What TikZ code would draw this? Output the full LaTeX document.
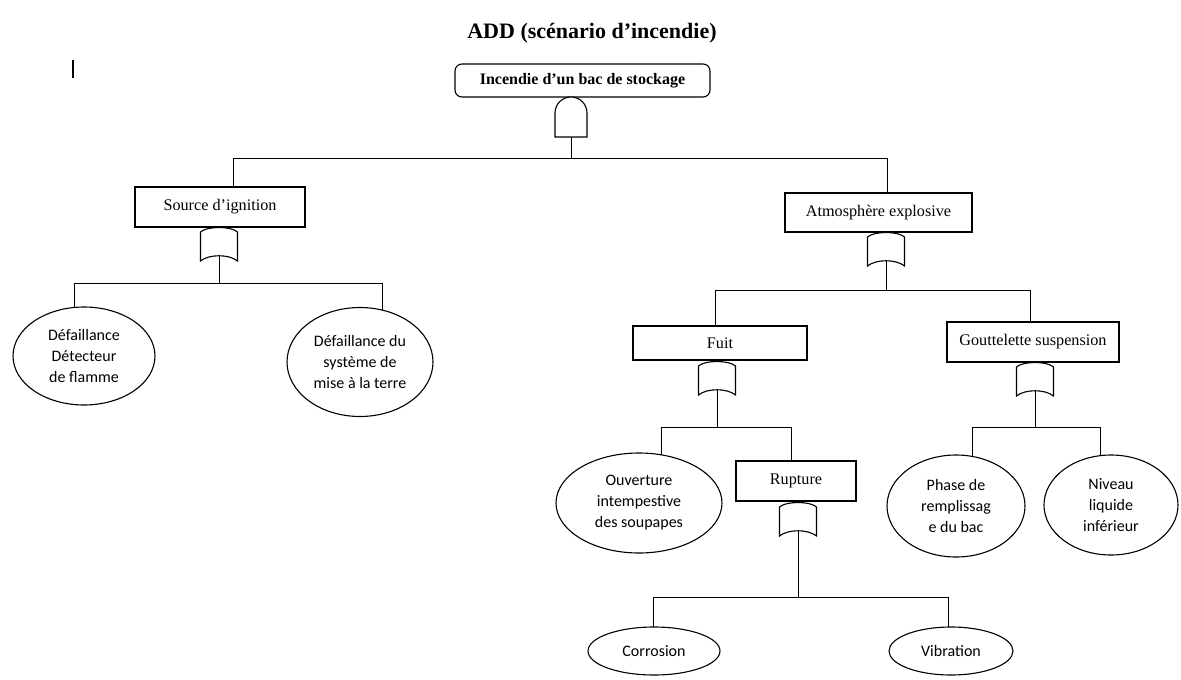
\documentclass[tikz,border=0pt]{standalone}
\usepackage{fontspec}
\setmainfont{Liberation Serif}
\newfontfamily\calibri{Carlito}
\usetikzlibrary{shapes.geometric,backgrounds}

% OR gate: domed top, concave base; origin at the top centre
\tikzset{
  orgate/.pic={
    \draw[fill=white] (-18.5,34) -- (-18.5,5)
      .. controls (-12,-1) and (12,-1) .. (18.5,5)
      -- (18.5,34)
      .. controls (10,27) and (-10,27) .. (-18.5,34) -- cycle;
    \coordinate (-in) at (0,0);
    \coordinate (-out) at (0,28.5);
  },
  % AND gate: flat base, semicircular top; origin at the top centre
  andgate/.pic={
    \draw[fill=white] (-16,40) -- (-16,16)
      .. controls (-16,7.16) and (-8.84,0) .. (0,0)
      .. controls (8.84,0) and (16,7.16) .. (16,16)
      -- (16,40) -- cycle;
    \coordinate (-in) at (0,0);
    \coordinate (-out) at (0,40);
  }
}

\begin{document}
\begin{tikzpicture}[x=1pt,y=-1pt,line width=1.1pt,
  event/.style={draw, rectangle, inner sep=0pt, fill=white,
    font=\fontsize{16.2}{19}\selectfont},
  basic/.style={draw, ellipse, inner sep=0pt, fill=white, align=center,
    font=\calibri\fontsize{16}{21}\selectfont},
  conn/.style={line width=1.1pt}
]
\useasboundingbox (0,0) rectangle (1181,680);

% title and stray cursor mark
\node (title) at (592,33) {\fontsize{22}{26}\selectfont\bfseries ADD (scénario d’incendie)};
\draw (73,60) -- (73,78);

% top event
\node[event, rounded corners=7pt, minimum width=255pt, minimum height=33pt,
  font=\bfseries\fontsize{16}{19}\selectfont] (top) at (582.5,80.5) {Incendie d’un bac de stockage};
\pic (gA) at (571,97) {andgate};

% intermediate events
\node[event, minimum width=170pt, minimum height=40pt] (src) at (220,207) {Source d’ignition};
\node[event, minimum width=187pt, minimum height=39pt] (atm) at (878.5,212.5) {Atmosphère explosive};
\node[event, minimum width=174pt, minimum height=34pt] (fuit) at (720,343) {Fuit};
\node[event, minimum width=172pt, minimum height=40pt] (gout) at (1033,342) {Gouttelette suspension};
\node[event, minimum width=120pt, minimum height=40pt] (rup) at (796,481) {Rupture};

\pic (gS) at (219,227) {orgate};
\pic (gX) at (886,232) {orgate};
\pic (gF) at (717,361) {orgate};
\pic (gG) at (1035,362) {orgate};
\pic (gR) at (798,502) {orgate};

% basic events
\node[basic, minimum width=142pt, minimum height=98pt] (d1) at (84,356) {Défaillance\\Détecteur\\de flamme};
\node[basic, minimum width=146pt, minimum height=109pt] (d2) at (360,362) {Défaillance du\\système de\\mise à la terre};
\node[basic, minimum width=166pt, minimum height=100pt] (d3) at (639,503) {Ouverture\\intempestive\\des soupapes};
\node[basic, minimum width=138pt, minimum height=102pt] (d4) at (956,506) {Phase de\\remplissag\\e du bac};
\node[basic, minimum width=134pt, minimum height=100pt] (d5) at (1111,505) {Niveau\\liquide\\inférieur};
\node[basic, minimum width=132pt, minimum height=48pt] (d6) at (654,651) {Corrosion};
\node[basic, minimum width=124pt, minimum height=48pt] (d7) at (951,651) {Vibration};

% junction bars
\coordinate (b0L) at (233,158);  \coordinate (b0R) at (887,158);
\coordinate (b1L) at (74,283);   \coordinate (b1R) at (382,283);
\coordinate (b2L) at (715,290);  \coordinate (b2R) at (1030,290);
\coordinate (b3L) at (661,427);  \coordinate (b3R) at (791,427);
\coordinate (b4L) at (972,427);  \coordinate (b4R) at (1100,427);
\coordinate (b5L) at (653,597);  \coordinate (b5R) at (948,597);

\begin{scope}[on background layer, conn]
  \draw (gA-out) -- (gA-out |- b0L);
  \draw (b0L) -- (b0R);
  \draw (b0L) -- (b0L |- src.center);
  \draw (b0R) -- (b0R |- atm.center);

  \draw (gS-out) -- (gS-out |- b1L);
  \draw (b1L) -- (b1R);
  \draw (b1L) -- (b1L |- d1.center);
  \draw (b1R) -- (b1R |- d2.center);

  \draw (gX-out) -- (gX-out |- b2L);
  \draw (b2L) -- (b2R);
  \draw (b2L) -- (b2L |- fuit.center);
  \draw (b2R) -- (b2R |- gout.center);

  \draw (gF-out) -- (gF-out |- b3L);
  \draw (b3L) -- (b3R);
  \draw (b3L) -- (b3L |- d3.center);
  \draw (b3R) -- (b3R |- rup.center);

  \draw (gG-out) -- (gG-out |- b4L);
  \draw (b4L) -- (b4R);
  \draw (b4L) -- (b4L |- d4.center);
  \draw (b4R) -- (b4R |- d5.center);

  \draw (gR-out) -- (gR-out |- b5L);
  \draw (b5L) -- (b5R);
  \draw (b5L) -- (b5L |- d6.center);
  \draw (b5R) -- (b5R |- d7.center);
\end{scope}
\end{tikzpicture}
\end{document}
